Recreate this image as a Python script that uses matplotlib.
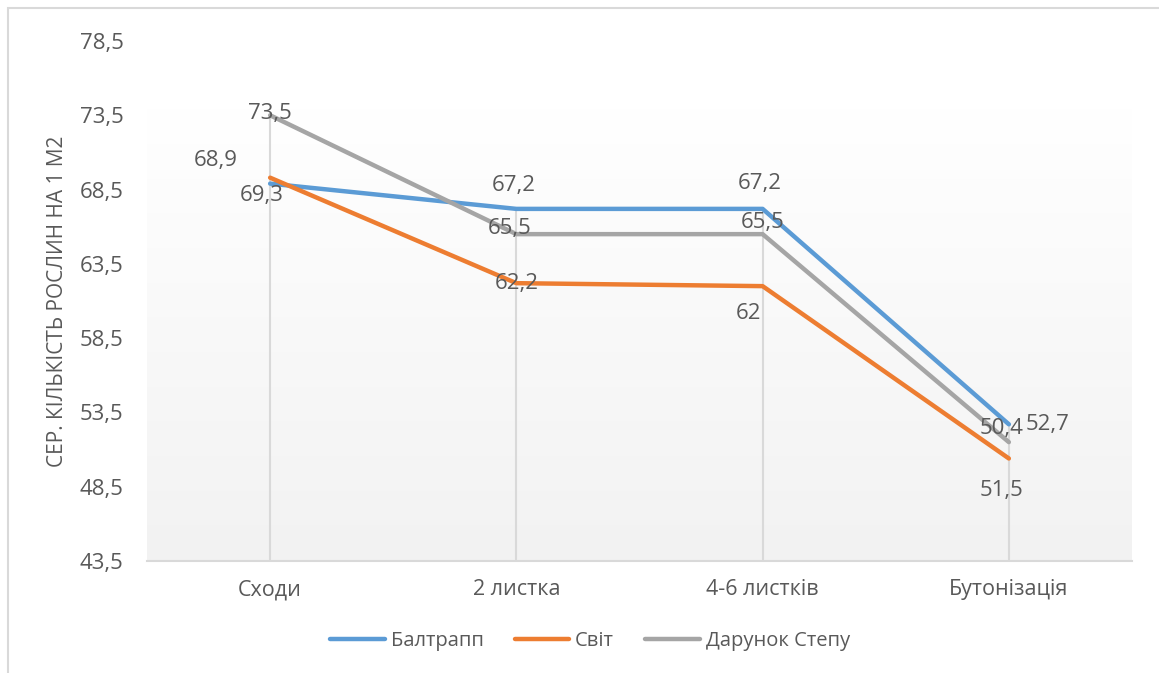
import matplotlib
matplotlib.use("Agg")
import matplotlib.pyplot as plt
import numpy as np
from matplotlib.patches import Rectangle

plt.rcParams["font.family"] = ["Open Sans", "DejaVu Sans"]

stages = ["Сходи", "2 листка", "4-6 листків", "Бутонізація"]
series_names = ["Балтрапп", "Світ", "Дарунок Степу"]
baltrapp = [68.9, 67.2, 67.2, 52.7]
svit = [69.3, 62.2, 62.0, 50.4]
darunok = [73.5, 65.5, 65.5, 51.5]
y_ticks = [43.5, 48.5, 53.5, 58.5, 63.5, 68.5, 73.5, 78.5]

colors = ["#5B9BD5", "#ED7D31", "#A5A5A5"]
# label offsets in pixels, per series per point
offsets = [
    [(-54, 23), (-3, 23), (-3, 25), (39, 0)],
    [(-8, -18), (0, 0), (-14, -27), (-7, 30)],
    [(0, 2), (-7, 6), (0, 12), (-7, -48)],
]

TXT = "#595959"
GRID = "#D9D9D9"
NUM_FS = 16

fig = plt.figure(figsize=(11.59, 6.73), dpi=100)
ax = fig.add_axes([147 / 1159, 1 - 561 / 673, 985 / 1159, 520 / 673])

# plot-area gradient: white at top to light gray at bottom
t = np.linspace(0, 1, 256)
t = np.clip((t - 0.13) / 0.87, 0, 1)
shade = 1 - t * (1 - 0xF2 / 255)
grad = np.repeat(shade[:, None, None], 3, axis=2)
ax.imshow(grad, extent=[0, 4, 43.5, 78.5], origin="upper", aspect="auto",
          zorder=0, interpolation="bilinear")

x = np.arange(len(stages)) + 0.5
data = [baltrapp, svit, darunok]

# drop lines from the highest value down to the axis
tops = np.max(np.array(data), axis=0)
ax.vlines(x, 43.5, tops, color=GRID, lw=1.5, zorder=1)

for vals, name, c in zip(data, series_names, colors):
    ax.plot(x, vals, color=c, lw=3.2, label=name, zorder=3,
            solid_joinstyle="round", solid_capstyle="round")

for vals, offs in zip(data, offsets):
    for xi, v, (dx, dy) in zip(x, vals, offs):
        lbl = f"{v:g}".replace(".", ",")
        ax.annotate(lbl, (xi, v), xytext=(dx, dy), textcoords="offset pixels",
                    ha="center", va="center", fontsize=NUM_FS, color=TXT,
                    zorder=4)

ax.set_xlim(0, 4)
ax.set_ylim(43.5, 78.5)
ax.set_xticks(x)
ax.set_xticklabels(stages)
ax.set_yticks(y_ticks)
ax.set_yticklabels([f"{v:g}".replace(".", ",") for v in y_ticks])
ax.tick_params(length=0, colors=TXT)
ax.tick_params(axis="x", pad=13, labelsize=15.5)
ax.tick_params(axis="y", pad=17, labelsize=NUM_FS)
for s in ["top", "right", "left"]:
    ax.spines[s].set_visible(False)
ax.spines["bottom"].set_color(GRID)
ax.spines["bottom"].set_linewidth(1.5)
ax.set_ylabel("СЕР. КІЛЬКІСТЬ РОСЛИН НА 1 М2", fontsize=15, color=TXT,
              labelpad=8)

fig.legend(loc="center", bbox_to_anchor=(590 / 1159, 1 - 641 / 673), ncol=3,
           frameon=False, fontsize=14.5, handlelength=2.7, columnspacing=1.55,
           handletextpad=0.3, labelcolor=TXT)

fig.patches.append(Rectangle((8 / 1159, -0.1), 1.2, 1 - 8 / 673 + 0.1,
                             transform=fig.transFigure, fill=False,
                             edgecolor=GRID, lw=1.5))

fig.savefig("out.png", dpi=100)
